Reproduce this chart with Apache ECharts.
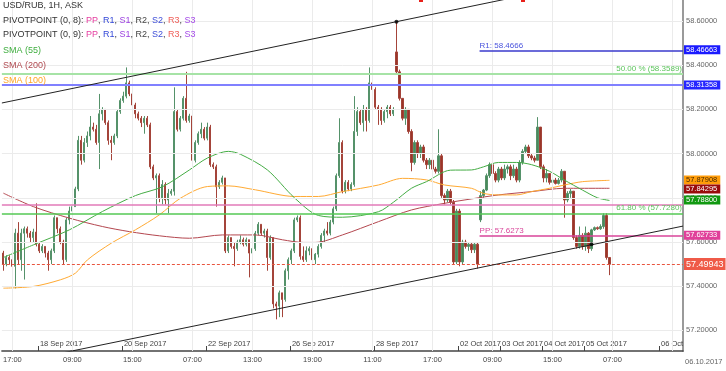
<!DOCTYPE html>
<html><head><meta charset="utf-8">
<script src="https://cdn.jsdelivr.net/npm/echarts@6/dist/echarts.min.js"></script>
<style>html,body{margin:0;padding:0;background:#fff}#c{width:726px;height:371px}</style>
</head><body><div id="c"></div>
<script>
// ---- data (hourly candles, USD/RUB) ----
const opens = [
57.55,57.50,57.53,57.52,57.49,57.64,57.52,57.64,57.66,57.64,
57.62,57.645,57.59,57.56,57.58,57.55,57.52,57.56,57.71,57.66,
57.60,57.52,57.70,57.74,57.76,57.84,58.06,57.97,58.05,58.08,
58.12,58.11,58.05,58.18,58.20,58.14,58.06,58.05,58.08,58.19,
58.24,58.26,58.32,58.27,58.22,58.18,58.16,58.14,58.16,58.13,
57.94,57.89,57.90,57.80,57.86,57.79,57.82,57.83,58.19,58.11,
58.16,58.25,58.15,58.17,57.97,58.05,58.09,58.11,58.07,58.12,
57.95,57.94,57.85,57.87,57.89,57.56,57.62,57.58,57.57,57.60,
57.61,57.59,57.61,57.55,57.57,57.64,57.68,57.64,57.65,57.53,
57.62,57.32,57.31,57.37,57.34,57.47,57.52,57.56,57.70,57.71,
57.535,57.52,57.56,57.57,57.52,57.545,57.58,57.63,57.65,57.64,
57.69,57.75,57.90,58.05,57.83,57.87,57.84,57.86,58.10,58.19,
58.14,58.20,58.15,58.32,58.29,58.21,58.20,58.15,58.19,58.21,
58.18,58.46,58.37,58.25,58.16,58.20,58.10,57.96,58.05,58.00,
58.03,57.97,57.95,57.97,57.93,57.92,57.99,57.81,57.79,57.83,
57.78,57.51,57.74,57.51,57.60,57.58,57.59,57.565,57.59,57.70,
57.81,57.835,57.90,57.95,57.91,57.88,57.93,57.89,57.93,57.94,
57.90,57.93,57.88,57.96,58.01,58.03,57.99,57.98,57.97,58.12,
57.94,57.89,57.91,57.87,57.88,57.865,57.88,57.92,57.79,57.82,
57.83,57.62,57.58,57.63,57.58,57.64,57.57,57.655,57.665,57.66,
57.67,57.72,57.53];
const closes = [
57.50,57.53,57.52,57.49,57.64,57.52,57.64,57.66,57.64,57.62,
57.645,57.59,57.56,57.58,57.55,57.52,57.56,57.71,57.66,57.60,
57.52,57.70,57.74,57.76,57.84,58.06,57.97,58.05,58.08,58.12,
58.11,58.05,58.18,58.20,58.14,58.06,58.05,58.08,58.19,58.24,
58.26,58.32,58.27,58.22,58.18,58.16,58.14,58.16,58.13,57.94,
57.89,57.90,57.80,57.86,57.79,57.82,57.83,58.19,58.11,58.16,
58.25,58.15,58.17,57.97,58.05,58.09,58.11,58.07,58.12,57.95,
57.94,57.85,57.87,57.89,57.56,57.62,57.58,57.57,57.60,57.61,
57.59,57.61,57.55,57.57,57.64,57.68,57.64,57.65,57.53,57.62,
57.32,57.31,57.37,57.34,57.47,57.52,57.56,57.70,57.71,57.535,
57.52,57.56,57.57,57.52,57.545,57.58,57.63,57.65,57.64,57.69,
57.75,57.90,58.05,57.83,57.87,57.84,57.86,58.10,58.19,58.14,
58.20,58.15,58.32,58.29,58.21,58.20,58.15,58.19,58.21,58.18,
58.20,58.37,58.25,58.16,58.20,58.10,57.96,58.05,58.00,58.03,
57.97,57.95,57.97,57.93,57.92,57.99,57.81,57.79,57.83,57.78,
57.51,57.74,57.51,57.60,57.58,57.59,57.565,57.59,57.50,57.81,
57.835,57.90,57.95,57.91,57.88,57.93,57.89,57.93,57.94,57.90,
57.93,57.88,57.96,58.01,58.03,57.99,57.98,57.97,58.12,57.94,
57.89,57.91,57.87,57.88,57.865,57.88,57.92,57.79,57.82,57.83,
57.62,57.58,57.63,57.58,57.64,57.57,57.655,57.665,57.66,57.67,
57.72,57.53,57.4994];
const highs = [
57.56,57.54,57.54,57.53,57.66,57.69,57.66,57.67,57.67,57.65,
57.66,57.775,57.60,57.59,57.58,57.56,57.57,57.72,57.71,57.67,
57.61,57.71,57.76,57.78,57.85,58.08,58.08,58.07,58.10,58.17,
58.14,58.13,58.27,58.21,58.20,58.15,58.08,58.09,58.20,58.25,
58.28,58.39,58.33,58.28,58.23,58.19,58.17,58.17,58.17,58.14,
57.95,57.91,57.91,57.88,57.87,57.84,57.84,58.30,58.20,58.17,
58.26,58.37,58.18,58.18,58.06,58.10,58.14,58.12,58.14,58.13,
57.96,57.95,57.88,57.90,57.89,57.63,57.62,57.60,57.61,57.63,
57.62,57.62,57.61,57.58,57.65,57.69,57.68,57.66,57.66,57.63,
57.62,57.33,57.38,57.37,57.48,57.53,57.57,57.71,57.72,57.72,
57.58,57.58,57.58,57.58,57.55,57.59,57.64,57.66,57.69,57.70,
57.76,57.91,58.16,58.06,57.88,57.88,57.87,58.26,58.21,58.20,
58.22,58.21,58.39,58.33,58.30,58.22,58.21,58.20,58.22,58.22,
58.21,58.597,58.38,58.25,58.21,58.20,58.11,58.06,58.06,58.04,
58.04,57.98,57.98,57.98,57.94,58.11,58.00,57.82,57.84,57.84,
57.79,57.75,57.75,57.61,57.61,57.60,57.60,57.60,57.60,57.83,
57.84,57.91,57.96,57.99,57.92,57.94,57.94,57.95,57.95,57.95,
57.95,57.94,57.97,58.02,58.04,58.04,58.00,57.99,58.165,58.12,
57.95,57.93,57.91,57.89,57.89,57.89,57.93,57.92,57.83,57.84,
57.83,57.63,57.67,57.64,57.67,57.645,57.66,57.67,57.67,57.68,
57.73,57.73,57.53];
const lows = [
57.47,57.49,57.50,57.47,57.39,57.50,57.47,57.43,57.62,57.60,
57.60,57.58,57.55,57.55,57.53,57.47,57.50,57.55,57.64,57.59,
57.50,57.51,57.68,57.70,57.76,57.83,57.95,57.96,58.03,58.06,
58.10,58.04,57.93,58.15,58.13,58.04,57.97,58.04,58.07,58.18,
58.23,58.25,58.26,58.21,58.16,58.15,58.12,58.09,58.12,57.93,
57.88,57.73,57.78,57.77,57.77,57.73,57.81,57.81,58.10,58.10,
58.15,58.14,58.14,57.96,57.96,58.04,58.07,58.06,58.06,57.94,
57.93,57.76,57.84,57.86,57.55,57.55,57.57,57.49,57.56,57.59,
57.58,57.58,57.44,57.53,57.56,57.63,57.63,57.62,57.47,57.52,
57.30,57.25,57.26,57.26,57.33,57.43,57.50,57.55,57.69,57.52,
57.51,57.51,57.54,57.38,57.50,57.53,57.57,57.60,57.63,57.63,
57.68,57.74,57.89,57.82,57.82,57.83,57.83,57.85,58.08,58.13,
58.10,58.10,58.14,58.27,58.20,58.13,58.13,58.14,58.16,58.17,
58.17,58.36,58.24,58.15,58.13,58.09,57.92,57.95,57.98,57.98,
57.96,57.93,57.93,57.92,57.91,57.91,57.80,57.77,57.78,57.77,
57.50,57.50,57.49,57.50,57.57,57.56,57.55,57.55,57.48,57.69,
57.80,57.83,57.89,57.90,57.87,57.87,57.88,57.88,57.91,57.88,
57.89,57.87,57.87,57.95,58.00,57.98,57.97,57.96,57.97,57.93,
57.87,57.87,57.86,57.86,57.86,57.86,57.87,57.71,57.78,57.80,
57.61,57.57,57.57,57.565,57.56,57.55,57.56,57.65,57.655,57.655,
57.66,57.52,57.45];

// moving averages: [candle index, value]
const sma55 = [[0,57.53],[10,57.587],[22,57.655],[33,57.738],[44,57.81],[53,57.85],[62,57.926],[68,57.98],[75,58.01],[79,57.997],[88,57.926],[97,57.80],[105,57.72],[113,57.712],[125,57.737],[130,57.78],[136,57.843],[141,57.873],[149,57.925],[156,57.926],[160,57.94],[165,57.96],[171,57.96],[176,57.95],[182,57.92],[187,57.88],[193,57.835],[198,57.80],[202,57.788]];
const sma100 = [[0,57.391],[10,57.399],[19,57.429],[24,57.459],[28,57.519],[36,57.595],[44,57.655],[52,57.723],[59,57.798],[68,57.851],[75,57.854],[84,57.836],[97,57.806],[105,57.806],[113,57.828],[125,57.858],[133,57.888],[141,57.881],[147,57.858],[156,57.843],[160,57.82],[165,57.813],[171,57.813],[176,57.828],[182,57.843],[187,57.858],[193,57.873],[202,57.879]];
const sma200 = [[0,57.821],[10,57.76],[22,57.708],[33,57.67],[42,57.647],[52,57.628],[62,57.617],[73,57.632],[84,57.632],[93,57.61],[100,57.598],[104,57.598],[113,57.632],[125,57.692],[136,57.745],[147,57.775],[156,57.795],[165,57.813],[176,57.828],[187,57.843],[202,57.843]];

// trend lines and touch points
const upperTrend = [[-0.5,58.229],[180,58.734]];
const lowerTrend = [[20,57.099],[226.5,57.672]];
const trendDots = [[131,58.597],[196,57.59]];

// levels
const fib50 = 58.3589, fib618 = 57.7280, blueLevel = 58.31358;
const r1 = 58.4666, pp = 57.6273, pinkLevel = 57.775, lastPrice = 57.49943;
const pivotStart = 158.7;
const smaLast = {s100: 57.87908, s200: 57.84295, s55: 57.78800};

// axis labels / grid
const yGrid = [57.2,57.4,57.6,57.8,58.0,58.2,58.4,58.6];
const timeLabels = ['17:00','09:00','15:00','07:00','13:00','19:00','11:00','17:00','09:00','15:00','07:00'];
const timeSlots = [3,23,43,63,83,103,123,143,163,183,203];
const gridSlots = [3,23,43,63,83,103,123,143,163,183,203,223];
const dateLabels = ['18 Sep 2017','20 Sep 2017','22 Sep 2017','26 Sep 2017','28 Sep 2017','02 Oct 2017','03 Oct 2017','04 Oct 2017','05 Oct 2017','06 Oct'];
const dateBounds = [12,40,68,96,124,152,166,180,194,219];

const SLOTS = 227;
const FONT = "'Liberation Sans', Arial, sans-serif";

const candles = opens.map((o,i)=>{
  const c = closes[i];
  return [o, c, Math.min(lows[i], o, c), Math.max(highs[i], o, c)];
});
const slotCats = Array.from({length: SLOTS}, (_, i) => i);
const halfCats = Array.from({length: SLOTS*2+1}, (_, j) => j);
const timeMap = {}; timeSlots.forEach((s,k)=>{ timeMap[2*s+1] = timeLabels[k]; });
const dateMap = {}; dateBounds.forEach((b,k)=>{ dateMap[2*b] = dateLabels[k]; });

function box(text, bg, fg, fs, pad){
  return {show:true, position:'end', distance:1, formatter:text, backgroundColor:bg, color:fg,
    fontSize:fs||7.5, fontFamily:FONT, padding:pad||[1,3,0,2]};
}
const noLine = {color:'rgba(0,0,0,0)', width:0};
const gridStyle = {color:'#ebebeb', width:1, type:'solid'};

const chart = echarts.init(document.getElementById('c'), null, {renderer:'canvas'});
chart.setOption({
  animation:false,
  backgroundColor:'#fff',
  grid:{left:0, right:43, top:0, bottom:20},
  xAxis:[
    {type:'category', data:slotCats, boundaryGap:true, show:false, axisLine:{onZero:false}},
    {type:'value', min:-0.5, max:SLOTS-0.5, show:false, axisLine:{onZero:false}},
    {type:'category', data:halfCats, boundaryGap:false, position:'bottom',
      axisLine:{show:true, onZero:false, lineStyle:{color:'#444', width:1.5}}, axisTick:{show:false},
      splitLine:{show:false},
      axisLabel:{interval:(j)=>timeMap[j]!==undefined, formatter:(v)=>timeMap[v]||'', fontSize:7.5, color:'#444', margin:5, fontFamily:FONT}},
    {type:'category', data:halfCats, boundaryGap:false, position:'bottom',
      axisLine:{show:false, onZero:false}, splitLine:{show:false},
      axisTick:{show:true, inside:true, length:5, interval:(j)=>dateMap[j]!==undefined, lineStyle:{color:'#444'}},
      axisLabel:{inside:true, interval:(j)=>dateMap[j]!==undefined, formatter:(v)=>dateMap[v]||'', align:'left', padding:[0,0,0,2], fontSize:7.5, color:'#444', margin:3, fontFamily:FONT}}
  ],
  yAxis:{type:'value', position:'right', min:57.1068, max:58.695, scale:true, splitNumber:8, minInterval:0.2, maxInterval:0.2,
    axisLine:{show:true, onZero:false, lineStyle:{color:'#9a9a9a', width:2}}, axisTick:{show:false},
    axisLabel:{fontSize:7.5, color:'#666', margin:3, fontFamily:FONT,
      formatter:(v)=> Math.abs(v*5-Math.round(v*5))<1e-6 ? v.toFixed(5) : ''},
    splitLine:{show:false}},
  series:[
    {name:'grid', type:'line', xAxisIndex:1, data:[], clip:true, z:0, silent:true,
      markLine:{silent:true, symbol:['none','none'], animation:false, label:{show:false},
        data: yGrid.map(v=>({yAxis:v, lineStyle:gridStyle})).concat(gridSlots.map(s=>({xAxis:s, lineStyle:gridStyle})))}},
    {name:'levels', type:'line', xAxisIndex:1, data:[], clip:false, z:1, silent:true,
      markLine:{silent:true, symbol:['none','none'], animation:false, label:{show:false}, data:[
        {yAxis:pinkLevel, lineStyle:{color:'#e27ab8', width:1.5, type:'solid'}, label:{show:false}},
        {yAxis:fib50, lineStyle:{color:'#a6e3a6', width:2, type:'solid'},
          label:{show:true, position:'insideEndTop', distance:[1,1], formatter:'50.00 % (58.3589)', color:'#5cc55c', fontSize:8, fontFamily:FONT}},
        {yAxis:fib618, lineStyle:{color:'#55c855', width:1.5, type:'solid'},
          label:{show:true, position:'insideEndTop', distance:[1,1], formatter:'61.80 % (57.7280)', color:'#5cc55c', fontSize:8, fontFamily:FONT}},
        {yAxis:blueLevel, lineStyle:{color:'#8080ff', width:2, type:'solid'}, label:box('58.31358','#2525ff','#fff')},
        [{xAxis:pivotStart, yAxis:r1, lineStyle:{color:'#3a3acc', width:1.5, type:'solid'},
          label:{show:true, position:'insideStartTop', distance:[0,1], formatter:'R1: 58.4666', color:'#4b55dd', fontSize:8, fontFamily:FONT}},
         {xAxis:SLOTS-0.5, yAxis:r1}],
        {yAxis:r1, lineStyle:noLine, label:box('58.46663','#1a1aff','#fff')},
        [{xAxis:pivotStart, yAxis:pp, lineStyle:{color:'#d9459a', width:1.5, type:'solid'},
          label:{show:true, position:'insideStartTop', distance:[0,1], formatter:'PP: 57.6273', color:'#d9459a', fontSize:8, fontFamily:FONT}},
         {xAxis:SLOTS-0.5, yAxis:pp}],
        {yAxis:pp, lineStyle:noLine, label:box('57.62733','#e0409a','#fff')},
        {yAxis:smaLast.s100, lineStyle:noLine, label:box('57.87908','#ff9d0a','#4a2a00')},
        {yAxis:smaLast.s200, lineStyle:noLine, label:box('57.84295','#990b0b','#fff')},
        {yAxis:smaLast.s55, lineStyle:noLine, label:box('57.78800','#119911','#fff')},
        {yAxis:lastPrice, lineStyle:{color:'#e8553f', width:1, type:[3,2]}, label:box('57.49943','#ef5a48','#fff',9,[2,2,1,2])}
      ]}},
    {name:'USD/RUB', type:'candlestick', xAxisIndex:0, data:candles, z:3, barWidth:1.6,
      itemStyle:{color:'#4a8a5a', color0:'#9a3628', borderColor:'#55926a', borderColor0:'#a4443a', borderWidth:1}},
    {name:'SMA (200)', type:'line', xAxisIndex:1, data:sma200, smooth:0.3, showSymbol:false, z:4,
      lineStyle:{color:'#b4474f', width:1}},
    {name:'SMA (100)', type:'line', xAxisIndex:1, data:sma100, smooth:0.3, showSymbol:false, z:4,
      lineStyle:{color:'#ffaa33', width:1}},
    {name:'SMA (55)', type:'line', xAxisIndex:1, data:sma55, smooth:0.3, showSymbol:false, z:4,
      lineStyle:{color:'#45ad45', width:1}},
    {name:'upper', type:'line', xAxisIndex:1, data:upperTrend, showSymbol:false, z:5, lineStyle:{color:'#222', width:1}},
    {name:'lower', type:'line', xAxisIndex:1, data:lowerTrend, showSymbol:false, z:5, lineStyle:{color:'#222', width:1}},
    {name:'dots', type:'scatter', xAxisIndex:1, data:trendDots, symbolSize:4, z:6, itemStyle:{color:'#000'}}
  ],
  graphic:[
    {type:'text', x:3, y:6, z:100, style:{text:'USD/RUB, 1H, ASK', fill:'#333', fontSize:9, fontFamily:FONT, verticalAlign:'middle'}},
    {type:'text', x:3, y:21, z:100, style:{text:'{d|PIVOTPOINT (0, 8): }{pp|PP}{d|, }{r1|R1}{d|, }{s1|S1}{d|, }{r2|R2}{d|, }{s2|S2}{d|, }{r3|R3}{d|, }{s3|S3}',
      fontSize:9, fontFamily:FONT, verticalAlign:'middle',
      rich:{d:{fill:'#333',fontSize:9,fontFamily:FONT}, pp:{fill:'#e63ea0',fontSize:9,fontFamily:FONT}, r1:{fill:'#3348d8',fontSize:9,fontFamily:FONT}, s1:{fill:'#9b3fe0',fontSize:9,fontFamily:FONT}, r2:{fill:'#444',fontSize:9,fontFamily:FONT}, s2:{fill:'#3f4fd8',fontSize:9,fontFamily:FONT}, r3:{fill:'#f0605a',fontSize:9,fontFamily:FONT}, s3:{fill:'#a54be8',fontSize:9,fontFamily:FONT}}}},
    {type:'text', x:3, y:35, z:100, style:{text:'{d|PIVOTPOINT (0, 9): }{pp|PP}{d|, }{r1|R1}{d|, }{s1|S1}{d|, }{r2|R2}{d|, }{s2|S2}{d|, }{r3|R3}{d|, }{s3|S3}',
      fontSize:9, fontFamily:FONT, verticalAlign:'middle',
      rich:{d:{fill:'#333',fontSize:9,fontFamily:FONT}, pp:{fill:'#e63ea0',fontSize:9,fontFamily:FONT}, r1:{fill:'#3348d8',fontSize:9,fontFamily:FONT}, s1:{fill:'#9b3fe0',fontSize:9,fontFamily:FONT}, r2:{fill:'#444',fontSize:9,fontFamily:FONT}, s2:{fill:'#3f4fd8',fontSize:9,fontFamily:FONT}, r3:{fill:'#f0605a',fontSize:9,fontFamily:FONT}, s3:{fill:'#a54be8',fontSize:9,fontFamily:FONT}}}},
    {type:'text', x:3, y:51, z:100, style:{text:'SMA (55)', fill:'#3fae3f', fontSize:9, fontFamily:FONT, verticalAlign:'middle'}},
    {type:'text', x:3, y:66, z:100, style:{text:'SMA (200)', fill:'#b04a50', fontSize:9, fontFamily:FONT, verticalAlign:'middle'}},
    {type:'text', x:3, y:81, z:100, style:{text:'SMA (100)', fill:'#ffa626', fontSize:9, fontFamily:FONT, verticalAlign:'middle'}},
    {type:'text', x:685, y:362, style:{text:'06.10.2017', fill:'#666', fontSize:7.5, fontFamily:FONT, verticalAlign:'middle'}},
    {type:'rect', shape:{x:419, y:0, width:4, height:2}, style:{fill:'#e8201a'}},
    {type:'rect', shape:{x:521, y:0, width:4, height:2}, style:{fill:'#e8201a'}}
  ]
});
</script>
</body></html>
